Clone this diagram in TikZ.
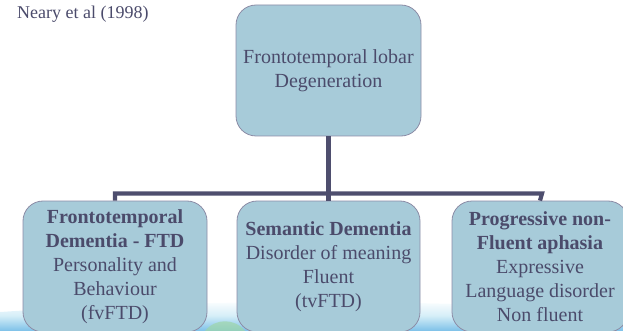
\documentclass[tikz,border=0pt]{standalone}
\usepackage{fontspec}
\setmainfont{Liberation Serif}
\definecolor{boxfill}{HTML}{A7CBD9}
\definecolor{boxline}{HTML}{8C8CA6}
\definecolor{txt}{HTML}{4B4B6B}
\definecolor{conn}{HTML}{4E4E6E}
\definecolor{waveA}{HTML}{D6EEF8}
\definecolor{waveB}{HTML}{7CC0E8}
\definecolor{waveG}{HTML}{9ED6A8}
\begin{document}
\begin{tikzpicture}[x=1pt,y=-1pt,
  box/.style={draw=boxline, line width=0.8pt, fill=boxfill, rounded corners=20pt,
    text=txt, align=center, font=\fontsize{20}{24}\selectfont, inner sep=0pt},
  link/.style={draw=conn, line width=4.2pt, line join=miter, line cap=butt}]
\useasboundingbox (0,0) rectangle (623,331);
% background wave
\shade[top color=white, bottom color=waveB, middle color=waveA]
  (0,331) -- (0,312) .. controls (150,302) and (300,300) .. (460,304)
  .. controls (540,306) and (600,304) .. (623,300) -- (623,331) -- cycle;
\fill[waveG, opacity=0.7] (205,331) .. controls (215,318) and (235,318) .. (245,331) -- cycle;
% citation
\node[anchor=base west, text=txt, font=\fontsize{18}{22}\selectfont, inner sep=0pt] (cite) at (17,19) {Neary et al (1998)};
% boxes
\node[box, minimum width=185pt, minimum height=131pt] (top) at (328.5,70.5)
  {Frontotemporal lobar\\Degeneration};
\coordinate (j) at (328.5,193.5);
\coordinate (jl) at (115,193.5);
\coordinate (jr) at (542,193.5);
\node[box, minimum width=184pt, minimum height=131pt] (a) at (115,266.5)
  {\textbf{Frontotemporal}\\\textbf{Dementia - FTD}\\Personality and\\Behaviour\\(fvFTD)};
\node[box, minimum width=183pt, minimum height=131pt] (b) at (328.5,266.5)
  {\textbf{Semantic Dementia}\\Disorder of meaning\\Fluent\\(tvFTD)};
\node[box, minimum width=176pt, minimum height=131pt] (c) at (540,266.5)
  {\textbf{Progressive non-}\\\textbf{Fluent aphasia}\\Expressive\\Language disorder\\Non fluent};
% connectors
\draw[link] (top.south) -- (j);
\draw[link] (a.north) -- (jl) -- (jr) -- (c.north);
\draw[link] (j) -- (b.north);
\end{tikzpicture}
\end{document}
